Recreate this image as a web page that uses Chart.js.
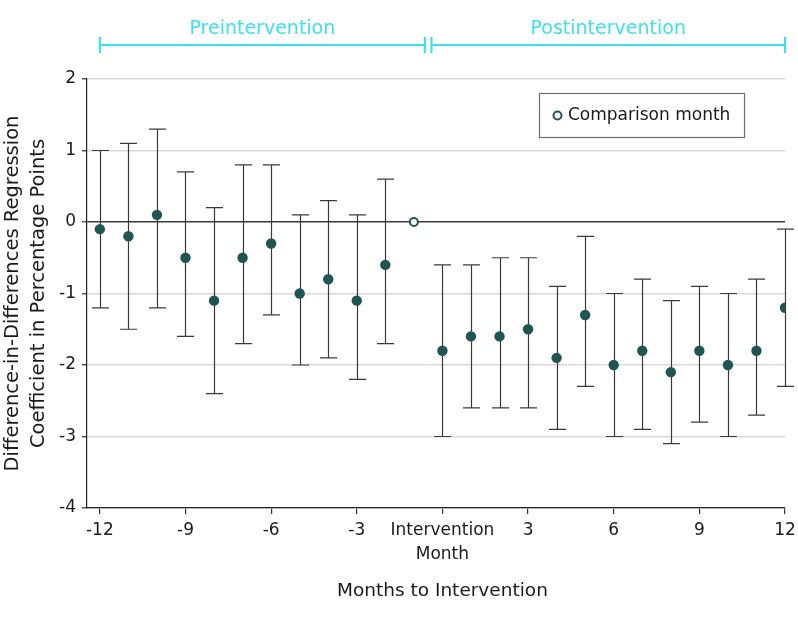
<!DOCTYPE html>
<html><head><meta charset="utf-8">
<script src="https://cdn.jsdelivr.net/npm/chart.js@4/dist/chart.umd.min.js"></script>
<style>html,body{margin:0;padding:0;background:#fff}#wrap{width:798px;height:620px;position:relative}</style>
</head><body><div id="wrap"><canvas id="c" width="798" height="620"></canvas></div>
<script>
// ---- data ----
const months       = [-12,-11,-10,-9,-8,-7,-6,-5,-4,-3,-2, 0,1,2,3,4,5,6,7,8,9,10,11,12];
const coefficients = [-0.1,-0.2,0.1,-0.5,-1.1,-0.5,-0.3,-1.0,-0.8,-1.1,-0.6, -1.8,-1.6,-1.6,-1.5,-1.9,-1.3,-2.0,-1.8,-2.1,-1.8,-2.0,-1.8,-1.2];
const ciLower      = [-1.2,-1.5,-1.2,-1.6,-2.4,-1.7,-1.3,-2.0,-1.9,-2.2,-1.7, -3.0,-2.6,-2.6,-2.6,-2.9,-2.3,-3.0,-2.9,-3.1,-2.8,-3.0,-2.7,-2.3];
const ciUpper      = [1.0,1.1,1.3,0.7,0.2,0.8,0.8,0.1,0.3,0.1,0.6, -0.6,-0.6,-0.5,-0.5,-0.9,-0.2,-1.0,-0.8,-1.1,-0.9,-1.0,-0.8,-0.1];
const comparisonMonth = [-1];
const comparisonValue = [0];
const xTickValues = [-12,-9,-6,-3,0,3,6,9,12];
const xTickLabels = ['-12','-9','-6','-3',['Intervention','Month'],'3','6','9','12'];
const yTickValues = [2,1,0,-1,-2,-3,-4];
const periodLabels = ['Preintervention','Postintervention'];
const periodStart  = [-12,-0.5];
const periodEnd    = [-0.5,12];
const legendLabel  = 'Comparison month';
const xTitle = 'Months to Intervention';
const yTitle = ['Difference-in-Differences Regression','Coefficient in Percentage Points'];

const FONT = "'DejaVu Sans', sans-serif";
const TEAL = '#1f5654';
const CYAN = '#3fe0ee';

const errorBars = {
  id: 'errorBars',
  beforeDatasetsDraw(chart) {
    const {ctx, scales: {x, y}} = chart;
    ctx.save();
    ctx.strokeStyle = '#3a3a3a';
    ctx.lineWidth = 1.2;
    months.forEach((m, i) => {
      const px = Math.round(x.getPixelForValue(m)) + 0.5;
      const yl = y.getPixelForValue(ciLower[i]);
      const yu = y.getPixelForValue(ciUpper[i]);
      ctx.beginPath();
      ctx.moveTo(px, yu); ctx.lineTo(px, yl);
      ctx.moveTo(px - 8.5, yu); ctx.lineTo(px + 8.5, yu);
      ctx.moveTo(px - 8.5, yl); ctx.lineTo(px + 8.5, yl);
      ctx.stroke();
    });
    ctx.restore();
  }
};

const extras = {
  id: 'extras',
  afterDraw(chart) {
    const {ctx, scales: {x}} = chart;
    ctx.save();
    // period brackets
    const by = 45;
    ctx.strokeStyle = CYAN;
    ctx.fillStyle = CYAN;
    ctx.lineWidth = 2.2;
    ctx.font = '19px ' + FONT;
    ctx.textAlign = 'center';
    ctx.textBaseline = 'middle';
    periodLabels.forEach((lab, i) => {
      let x0 = x.getPixelForValue(periodStart[i]);
      let x1 = x.getPixelForValue(periodEnd[i]);
      if (i === 0) x1 -= 3.3; else x0 += 3.3;
      ctx.beginPath();
      ctx.moveTo(x0, by); ctx.lineTo(x1, by);
      ctx.moveTo(x0, by - 8); ctx.lineTo(x0, by + 8);
      ctx.moveTo(x1, by - 8); ctx.lineTo(x1, by + 8);
      ctx.stroke();
      ctx.fillText(lab, (x0 + x1) / 2, 29);
    });
    // x axis title (centred under the intervention tick as in the reference)
    ctx.fillStyle = '#1a1a1a';
    ctx.font = '18.5px ' + FONT;
    ctx.fillText(xTitle, x.getPixelForValue(0), 591);
    // legend box
    ctx.strokeStyle = '#6e6e6e';
    ctx.lineWidth = 1.2;
    ctx.strokeRect(539.5, 93.5, 205, 44);
    ctx.beginPath();
    ctx.arc(557.5, 115.5, 4, 0, Math.PI * 2);
    ctx.fillStyle = '#fff';
    ctx.fill();
    ctx.strokeStyle = TEAL;
    ctx.lineWidth = 2;
    ctx.stroke();
    ctx.fillStyle = '#1a1a1a';
    ctx.font = '17px ' + FONT;
    ctx.textAlign = 'left';
    ctx.fillText(legendLabel, 568, 116);
    ctx.restore();
  }
};

new Chart(document.getElementById('c'), {
  type: 'scatter',
  data: {
    datasets: [
      {
        label: 'Coefficient',
        data: months.map((m, i) => ({x: m, y: coefficients[i]})),
        backgroundColor: TEAL, borderColor: TEAL,
        pointRadius: 5.2, pointHoverRadius: 5.2, borderWidth: 0
      },
      {
        label: legendLabel,
        data: comparisonMonth.map((m, i) => ({x: m, y: comparisonValue[i]})),
        backgroundColor: '#fff', borderColor: TEAL,
        pointRadius: 4, pointHoverRadius: 4, borderWidth: 2
      }
    ]
  },
  options: {
    responsive: false,
    animation: false,
    events: [],
    layout: {padding: {top: 79, right: 13, left: 0, bottom: 0}},
    plugins: {legend: {display: false}, tooltip: {enabled: false}},
    scales: {
      x: {
        type: 'linear', min: -12.45, max: 12,
        afterBuildTicks: s => { s.ticks = xTickValues.map(v => ({value: v})); },
        afterFit: s => { s.height = 112; s.paddingRight = 0; s.paddingLeft = 0; },
        ticks: {
          autoSkip: false, maxRotation: 0, padding: 5, color: '#1a1a1a',
          font: {family: FONT, size: 17, lineHeight: 1.4},
          callback: (v, i) => xTickLabels[i]
        },
        grid: {drawOnChartArea: false, drawTicks: true, tickLength: 6, color: '#333', lineWidth: 1.2},
        border: {display: true, color: '#222', width: 1.2},
        title: {display: false, text: xTitle}
      },
      y: {
        min: -4, max: 2,
        afterBuildTicks: s => { s.ticks = yTickValues.map(v => ({value: v})); },
        afterFit: s => { s.width = 87; },
        ticks: {padding: 6, color: '#1a1a1a', font: {family: FONT, size: 17}},
        grid: {
          drawTicks: true, tickLength: 5,
          color: c => (c.tick && c.tick.value === 0) ? '#3a3a3a' : '#d9d9d9',
          lineWidth: c => (c.tick && c.tick.value === 0) ? 1.4 : 1.5,
          tickColor: '#555'
        },
        border: {display: true, color: '#222', width: 1.2},
        title: {display: true, text: yTitle, color: '#1a1a1a',
          font: {family: FONT, size: 19.5, lineHeight: '26px'}, padding: {top: 0, bottom: 0}}
      }
    }
  },
  plugins: [errorBars, extras]
});
</script>
</body></html>
